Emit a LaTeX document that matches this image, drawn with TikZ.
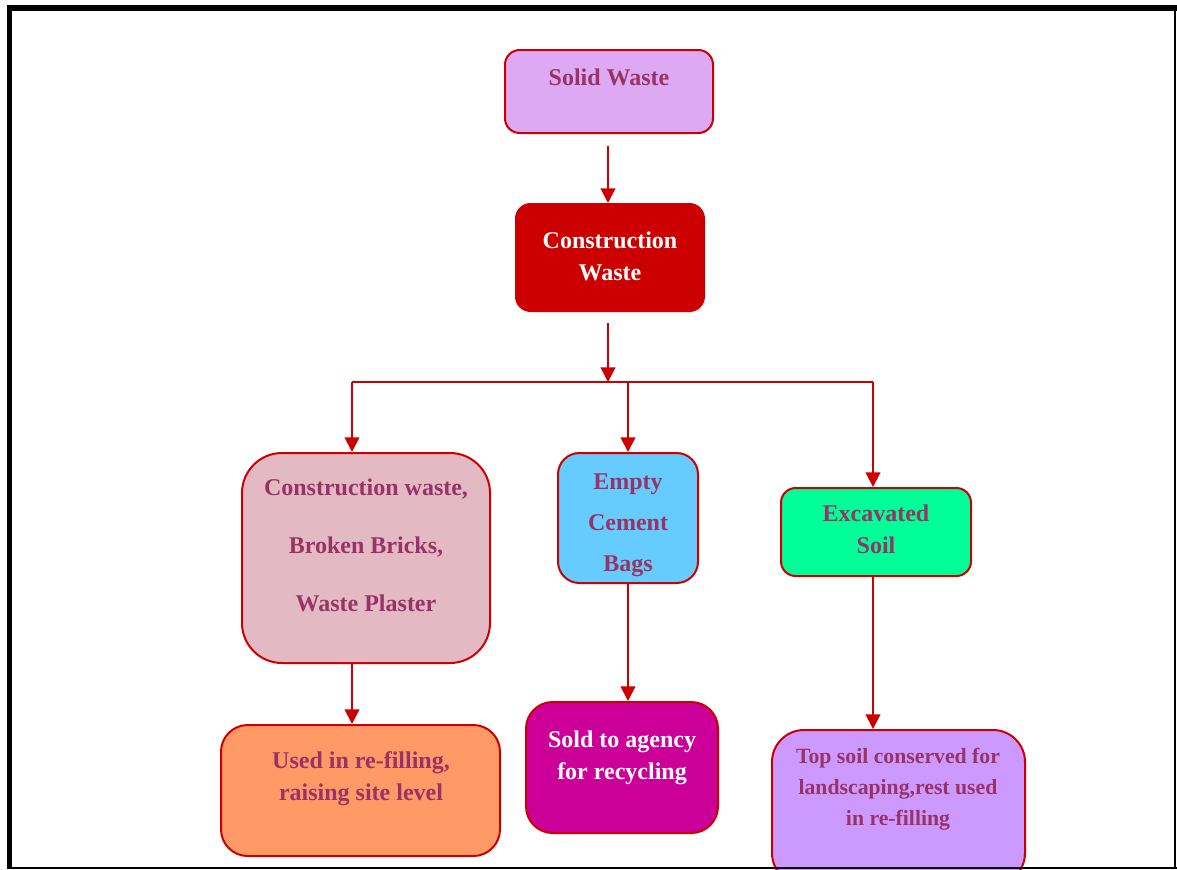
\documentclass[tikz,border=0pt]{standalone}
\usepackage{fontspec}
\setmainfont{Liberation Serif}
\usetikzlibrary{calc,fit,arrows.meta}
\definecolor{wred}{HTML}{CC0000}
\definecolor{wtext}{HTML}{993366}
\definecolor{cplum}{HTML}{DDA9F3}
\definecolor{cpink}{HTML}{E3BAC4}
\definecolor{ccyan}{HTML}{66CCFF}
\definecolor{cgreen}{HTML}{00FF99}
\definecolor{corange}{HTML}{FF9966}
\definecolor{cmagenta}{HTML}{CC0099}
\definecolor{clavender}{HTML}{CC99FF}

\begin{document}
\begin{tikzpicture}[x=0.75pt, y=-0.75pt,
    box/.style={draw=wred, line width=1.5pt, inner sep=0pt, rounded corners=#1},
    box/.default=15pt,
    txt/.style={text=wtext, align=center, font=\bfseries\fontsize{18}{24}\selectfont},
    link/.style={draw=wred, line width=1.5pt},
    arr/.style={link, -{Triangle[width=11pt,length=11pt]}}]
    \useasboundingbox (0,0) rectangle (1177,869);
    \clip (0,0) rectangle (1177,869);
    % boxes
    \node [box=11pt, fill=cplum, fit={(505,50) (713,133)}] (solid) {};
    \node [box=11pt, fill=wred, fit={(516,204) (704,311)}] (cons) {};
    \node [box=30pt, fill=cpink, fit={(242,453) (490,663)}] (mix) {};
    \node [box=16pt, fill=ccyan, fit={(558,453) (698,583)}] (bags) {};
    \node [box=11pt, fill=cgreen, fit={(781,488) (971,576)}] (soil) {};
    \node [box=20pt, fill=corange, fit={(221,725) (500,856)}] (refill) {};
    \node [box=20pt, fill=cmagenta, fit={(526,702) (718,833)}] (sold) {};
    \node [box=24pt, fill=clavender, fit={(772,730) (1025,885)}] (topsoil) {};
    % texts
    \node [txt] (solidt) at (609,77) {Solid Waste};
    \node [txt, text=white] (const) at (610,256) {Construction\\Waste};
    \node [txt, font=\bfseries\fontsize{18}{43.5}\selectfont] (mixt) at (366,545) {Construction waste,\\Broken Bricks,\\Waste Plaster};
    \node [txt, font=\bfseries\fontsize{18}{30.75}\selectfont] (bagst) at (628,525) {Empty\\Cement\\Bags};
    \node [txt] (soilt) at (876,529) {Excavated\\Soil};
    \node [txt] (refillt) at (361,779) {Used in re-filling,\\raising site level};
    \node [txt, text=white] (soldt) at (622,757.5) {Sold to agency\\for recycling};
    \node [txt, font=\bfseries\fontsize{16.3}{23.25}\selectfont] (topsoilt) at (898,789) {Top soil conserved for\\landscaping,rest used\\in re-filling};
    % connectors
    \coordinate (jl) at (352,382);
    \coordinate (jm) at (628,382);
    \coordinate (jr) at (873,382);
    \coordinate (jc) at (608,382);
    \draw [arr] ($(jc |- solid.south)+(0,12)$) -- (jc |- cons.north);
    \draw [arr] ($(jc |- cons.south)+(0,11)$) -- (jc);
    \draw [link] (jl) -- (jr);
    \draw [arr] (jl) -- (jl |- mix.north);
    \draw [arr] (jm) -- (jm |- bags.north);
    \draw [arr] (jr) -- (jr |- soil.north);
    \draw [arr] (jl |- mix.south) -- (jl |- refill.north);
    \draw [arr] (jm |- bags.south) -- (jm |- sold.north);
    \draw [arr] (jr |- soil.south) -- (jr |- topsoil.north);
    % frame
    \fill (7,5) rectangle (12,869);
    \fill (7,5) rectangle (1177,11);
    \fill (1174,5) rectangle (1176,869);
    \fill (7,866.5) rectangle (1177,869);
\end{tikzpicture}
\end{document}
